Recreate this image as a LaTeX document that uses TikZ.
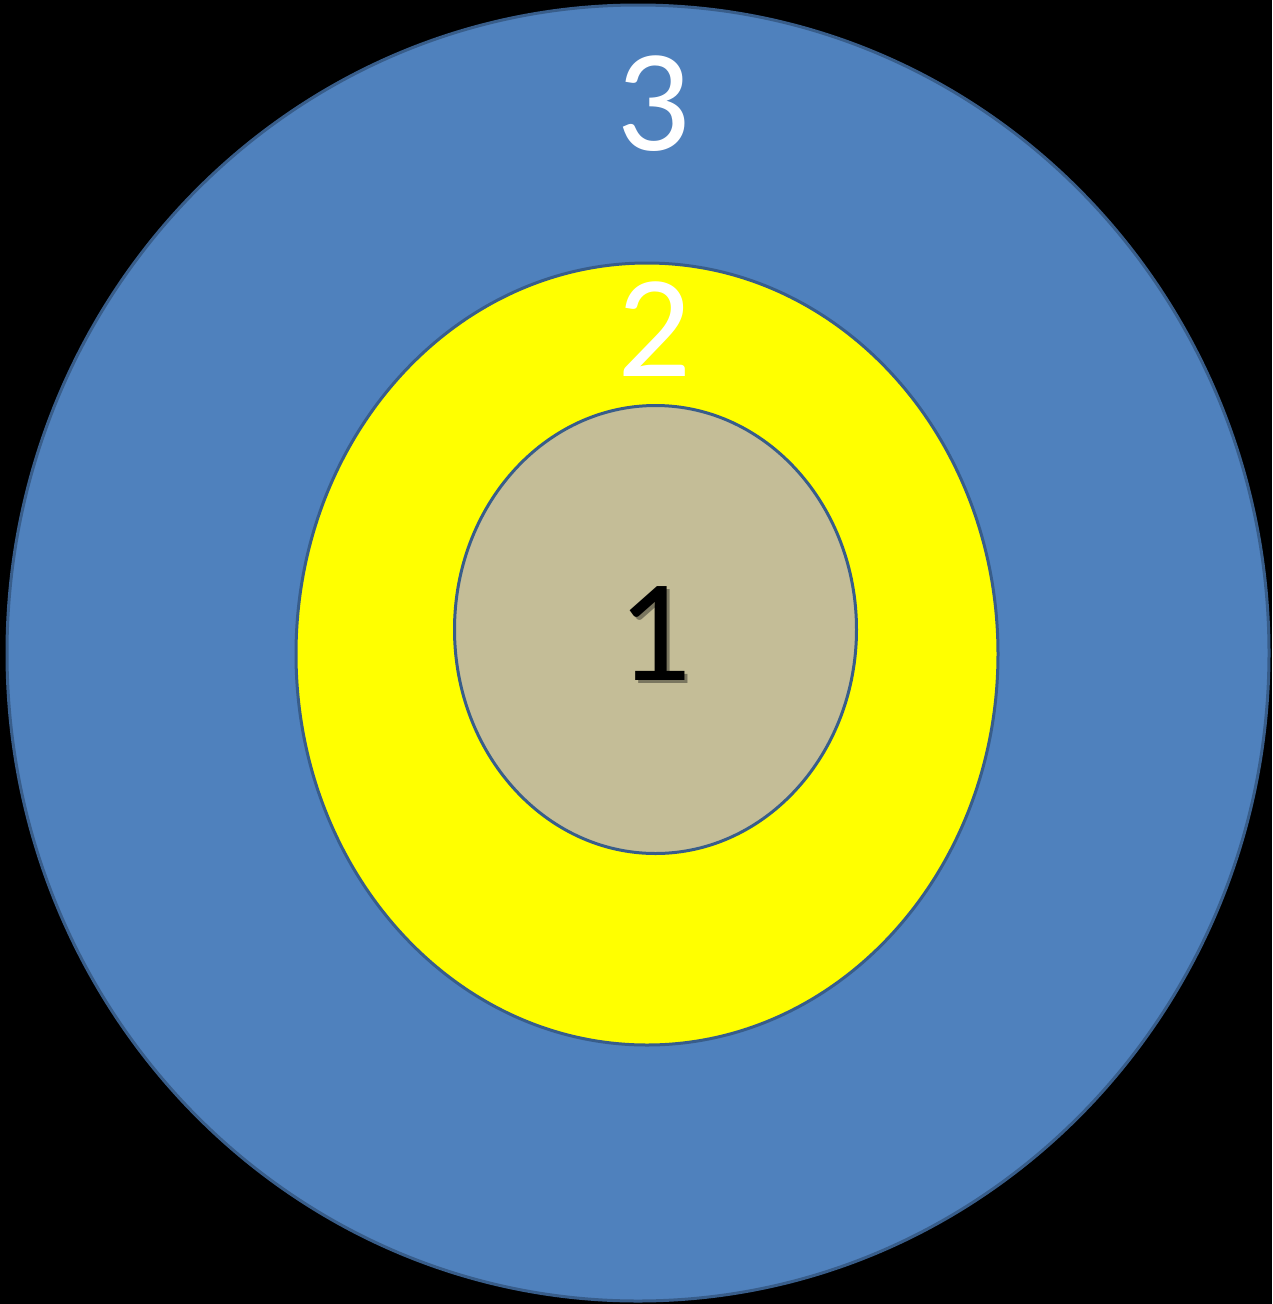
\documentclass[tikz,border=0pt]{standalone}
\usepackage{fontspec}
\setmainfont{Carlito}
\definecolor{ringblue}{HTML}{4F81BD}
\definecolor{ringedge}{HTML}{385D8A}
\definecolor{ringyellow}{HTML}{FFFF00}
\definecolor{ringtan}{HTML}{C4BD97}
\definecolor{shadowtan}{HTML}{7A765F}
\begin{document}
\begin{tikzpicture}[x=1pt,y=-1pt,
  ring/.style={draw=ringedge,line width=3pt},
  digit/.style={inner sep=0pt,anchor=base,font=\fontsize{146}{146}\selectfont}]
\fill[black] (0,0) rectangle (1272,1304);
\useasboundingbox (0,0) rectangle (1272,1304);
\path[ring,fill=ringblue] (638,653) ellipse [x radius=631,y radius=648];
\path[ring,fill=ringyellow] (647,654) ellipse [x radius=351,y radius=391];
\path[ring,fill=ringtan] (655.5,629.5) ellipse [x radius=201,y radius=224];
\node[digit,text=white] (n3) at (653.5,150) {3};
\node[digit,text=white] (n2) at (654.5,376) {2};
\node[digit,text=black] (n1) at (654,680) {\rlap{\kern3pt\raisebox{-3pt}{\color{shadowtan}1}}1};
\end{tikzpicture}
\end{document}
